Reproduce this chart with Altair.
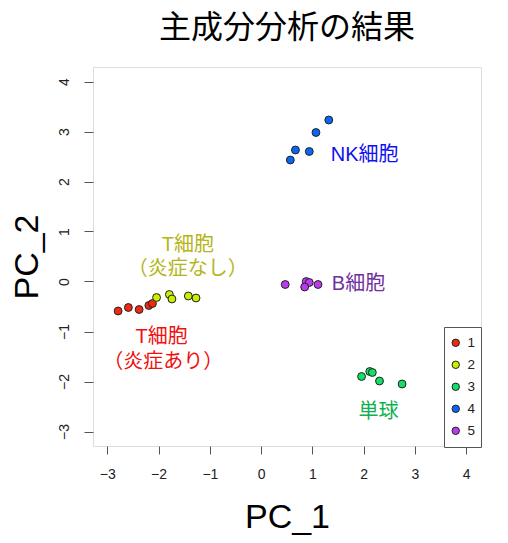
import altair as alt
import pandas as pd

# ---- data ----
groups = ["1", "2", "3", "4", "5"]
pc1_g1 = [-2.79, -2.59, -2.38, -2.19, -2.12]
pc2_g1 = [-0.59, -0.52, -0.56, -0.48, -0.44]
pc1_g2 = [-2.04, -1.79, -1.74, -1.42, -1.27]
pc2_g2 = [-0.32, -0.26, -0.35, -0.29, -0.33]
pc1_g3 = [1.96, 2.12, 2.17, 2.31, 2.75]
pc2_g3 = [-1.90, -1.80, -1.82, -1.99, -2.05]
pc1_g4 = [1.32, 1.07, 0.67, 0.94, 0.57]
pc2_g4 = [3.23, 2.98, 2.63, 2.60, 2.43]
pc1_g5 = [0.47, 0.88, 0.94, 0.85, 1.11]
pc2_g5 = [-0.06, 0.00, -0.02, -0.11, -0.06]

ticks = [-3, -2, -1, 0, 1, 2, 3, 4]

label_texts = ["NK細胞", "B細胞", "T細胞", "（炎症なし）", "T細胞", "（炎症あり）", "単球"]
label_pc1 = [2.02, 1.90, -1.43, -1.43, -1.94, -1.91, 2.29]
label_pc2 = [2.53, -0.05, 0.73, 0.25, -1.10, -1.60, -2.60]

# ---- styles ----
point_colors = ["#F02A10", "#CCEE00", "#11E066", "#0A66F5", "#B83CEE"]
label_colors = ["#1010F0", "#7030A0", "#B5B51A", "#B5B51A", "#F01010", "#F01010", "#10B050"]

LATIN = "Liberation Sans, Noto Sans CJK JP"
CJK = "Noto Sans CJK JP"

pc1_all = [pc1_g1, pc1_g2, pc1_g3, pc1_g4, pc1_g5]
pc2_all = [pc2_g1, pc2_g2, pc2_g3, pc2_g4, pc2_g5]
rows = []
for g, xs, ys in zip(groups, pc1_all, pc2_all):
    for x, y in zip(xs, ys):
        rows.append({"PC_1": x, "PC_2": y, "group": g})
pts = pd.DataFrame(rows)

labels = pd.DataFrame({"text": label_texts, "PC_1": label_pc1, "PC_2": label_pc2, "col": label_colors})

xscale = alt.Scale(domain=[-3.28, 4.29], nice=False, zero=False)
yscale = alt.Scale(domain=[-3.29, 4.29], nice=False, zero=False)

xaxis = alt.Axis(
    values=ticks, domain=False, grid=False, tickColor="#555", tickSize=8, tickWidth=1,
    labelFontSize=14, labelFont=LATIN, labelColor="#222", labelPadding=13,
    title="PC_1", titleFontSize=34, titleFont=LATIN, titleFontWeight="normal",
    titleColor="black", titleY=81, titleBaseline="alphabetic",
)
yaxis = alt.Axis(
    values=ticks, domain=False, grid=False, tickColor="#555", tickSize=9, tickWidth=1,
    labelFontSize=14, labelFont=LATIN, labelColor="#222", labelPadding=13,
    labelAngle=270, labelAlign="center", labelBaseline="bottom",
    title="PC_2", titleFontSize=34, titleFont=LATIN, titleFontWeight="normal",
    titleColor="black", titleX=-56, titleBaseline="alphabetic",
)

points = alt.Chart(pts).mark_circle(size=62, stroke="#222", strokeWidth=1, opacity=1).encode(
    x=alt.X("PC_1:Q", scale=xscale, axis=xaxis),
    y=alt.Y("PC_2:Q", scale=yscale, axis=yaxis),
    fill=alt.Fill(
        "group:N",
        scale=alt.Scale(domain=groups, range=point_colors),
        legend=alt.Legend(
            title=None, orient="none", legendX=351, legendY=260,
            strokeColor="#555", fillColor="white", padding=5, cornerRadius=0,
            labelFontSize=13.5, labelFont=LATIN, labelColor="#222", labelOffset=5,
            symbolType="circle", symbolSize=55, symbolStrokeColor="#222",
            symbolStrokeWidth=1, clipHeight=21.6, rowPadding=0,
        ),
    ),
)

texts = alt.Chart(labels).mark_text(fontSize=20, font=LATIN, align="center", baseline="middle").encode(
    x=alt.X("PC_1:Q", scale=xscale),
    y=alt.Y("PC_2:Q", scale=yscale),
    text="text:N",
    color=alt.Color("col:N", scale=None),
)

chart = alt.layer(points, texts).properties(
    width=388,
    height=379,
    padding={"left": 93, "top": 67, "right": 27, "bottom": 97},
    autosize=alt.AutoSizeParams(type="none"),
    title=alt.TitleParams(
        "主成分分析の結果", fontSize=32, font=CJK, fontWeight="normal", color="black",
        anchor="middle", baseline="alphabetic", offset=26, dy=29,
    ),
).configure_view(stroke="#555", strokeWidth=1).configure(background="white")

chart.save("out.html", embed_options={"renderer": "svg", "actions": False})
